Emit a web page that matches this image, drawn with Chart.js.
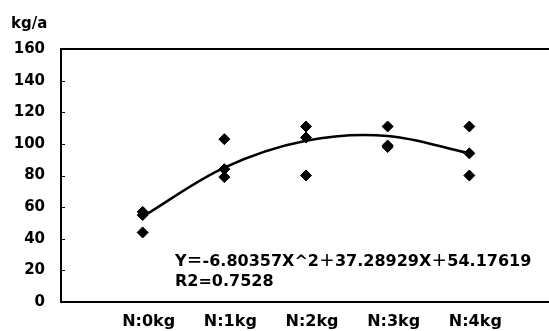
<!DOCTYPE html>
<html>
<head>
<meta charset="utf-8">
<script src="https://cdn.jsdelivr.net/npm/chart.js@4"></script>
<style>
  html, body { margin: 0; padding: 0; background: #fff; overflow: hidden; }
  #wrap { width: 549px; height: 331px; overflow: hidden; }
</style>
</head>
<body>
<div id="wrap"><canvas id="yieldChart" width="560" height="331"></canvas></div>
<script>
// Nitrogen treatments (x = 0..4)
const categories = ["N:0kg", "N:1kg", "N:2kg", "N:3kg", "N:4kg"];

// Three replicates per treatment, kg/a
const rep1 = [57, 103, 111, 111, 111];
const rep2 = [55, 84, 104, 99, 94];
const rep3 = [44, 79, 80, 98, 80];

// Trend curve at each treatment
const trendValues = [54, 85, 102, 105, 94];

const yTicks = [0, 20, 40, 60, 80, 100, 120, 140, 160];
const unitLabel = "kg/a";
const equationText = "Y\uFF1D-6.80357X^2\uFF0B37.28929X\uFF0B54.17619";
const r2Text = "R2=0.7528";

const points = [];
[rep1, rep2, rep3].forEach((rep) => {
  rep.forEach((v, i) => points.push({ x: i, y: v }));
});
const trendPoints = trendValues.map((v, i) => ({ x: i, y: v }));

// Frame top line, inner y ticks and the text labels
const decorPlugin = {
  id: "decor",
  afterDraw(chart) {
    const ctx = chart.ctx;
    const area = chart.chartArea;
    const y = chart.scales.y;
    ctx.save();
    ctx.strokeStyle = "#000";
    ctx.lineWidth = 2;
    ctx.beginPath();
    ctx.moveTo(area.left - 1, area.top);
    ctx.lineTo(area.right + 10, area.top);
    ctx.stroke();

    ctx.lineWidth = 1;
    yTicks.forEach((t) => {
      if (t === 0 || t === 160) return;
      const py = Math.round(y.getPixelForValue(t)) + 0.5;
      ctx.beginPath();
      ctx.moveTo(area.left, py);
      ctx.lineTo(area.left + 4, py);
      ctx.stroke();
    });

    ctx.fillStyle = "#000";
    ctx.textBaseline = "alphabetic";
    ctx.textAlign = "left";
    ctx.font = "bold 15px 'DejaVu Sans'";
    ctx.fillText(unitLabel, 11, 28);

    ctx.font = "bold 16px 'DejaVu Sans', 'Noto Sans CJK JP'";
    ctx.fillText(equationText, 175, 266);
    ctx.fillText(r2Text, 175, 286);
    ctx.restore();
  },
};

const ctx = document.getElementById("yieldChart").getContext("2d");
new Chart(ctx, {
  type: "scatter",
  data: {
    datasets: [
      {
        label: "trend",
        type: "line",
        data: trendPoints,
        borderColor: "#000",
        borderWidth: 2.5,
        pointRadius: 0,
        tension: 0.35,
        fill: false,
      },
      {
        label: "yield",
        data: points,
        pointStyle: "rectRot",
        pointRadius: 5.5,
        pointBackgroundColor: "#000",
        pointBorderColor: "#000",
        pointBorderWidth: 1,
      },
    ],
  },
  options: {
    responsive: false,
    animation: false,
    layout: { padding: { top: 49, left: 0, right: 9, bottom: 0 } },
    plugins: {
      legend: { display: false },
      tooltip: { enabled: false },
    },
    scales: {
      x: {
        type: "linear",
        min: -1,
        max: 5,
        afterFit: (s) => { s.height = 29; },
        afterBuildTicks: (s) => {
          s.ticks = categories.map((c, i) => ({ value: i }));
        },
        ticks: {
          autoSkip: false,
          maxRotation: 0,
          padding: 10,
          labelOffset: 6,
          color: "#000",
          font: { family: "'DejaVu Sans'", size: 16, weight: "bold" },
          callback: (v) => categories[v] ?? "",
        },
        grid: { display: false, drawTicks: false },
        border: { display: true, color: "#000", width: 2 },
      },
      y: {
        min: 0,
        max: 160,
        afterFit: (s) => { s.width = 61; },
        afterBuildTicks: (s) => {
          s.ticks = yTicks.map((v) => ({ value: v }));
        },
        ticks: {
          padding: 16,
          color: "#000",
          font: { family: "'DejaVu Sans'", size: 15, weight: "bold" },
        },
        grid: { display: false, drawTicks: false },
        border: { display: true, color: "#000", width: 2 },
      },
    },
  },
  plugins: [decorPlugin],
});
</script>
</body>
</html>
